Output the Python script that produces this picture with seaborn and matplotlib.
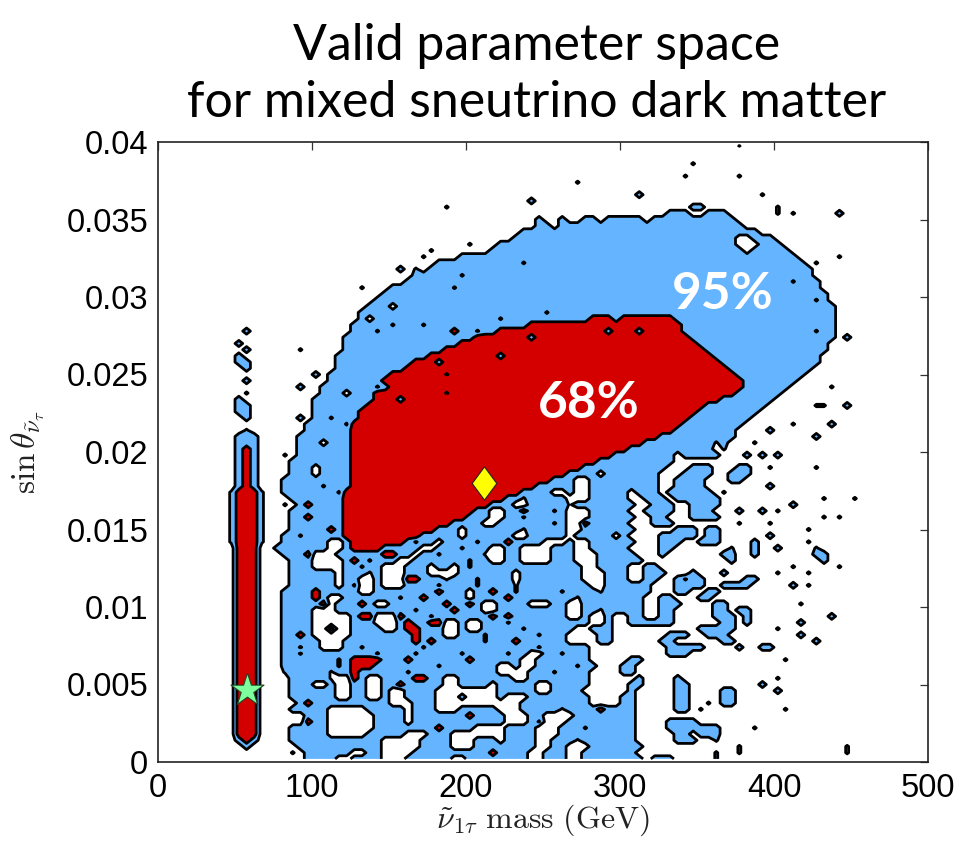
import numpy as np
import pandas as pd
import matplotlib
matplotlib.use("Agg")
import matplotlib.pyplot as plt
import seaborn as sns

# ---------------------------------------------------------------------------
# Binned posterior, 100 mass bins (5 GeV) x 100 sin(theta) bins (0.0004).
# Each row runs over the mass bins; rows go from the top (sin = 0.0398)
# down to the bottom (sin = 0.0002).  '|' separates blocks of ten bins,
# missing trailing blocks are empty.
#   .  outside the 95% region      d  just above the 95% level
#   h  just below the 95% level    b  inside the 95% region
#   q  just below the 68% level    m  just above the 68% level
#   r  inside the 68% region
# ---------------------------------------------------------------------------
level_code = {".": 0.0, "d": 0.62, "h": 0.4, "b": 1.0, "q": 1.4, "m": 1.6, "r": 2.0}

level_rows = [
    "..........|..........|..........|..........|..........|..........|..........|.....d....",
    "",
    "",
    "..........|..........|..........|..........|..........|..........|.........d",
    "",
    "..........|..........|..........|..........|..........|..........|........d.|.....d....",
    "..........|..........|..........|..........|..........|....d.....",
    "",
    "..........|..........|..........|..........|..........|..........|..b.......|........d.",
    "..........|..........|..........|..........|........b.",
    "..........|..........|..........|.......d..|..........|..........|.........b|b.........|d.........",
    "..........|..........|..........|..........|..........|..........|......bbb.|.bbb......|d.d.....b.",
    "..........|..........|..........|..........|.........b|..b..bb.bb|bbb.bbbbbb|bbbbb.....",
    "..........|..........|..........|..........|.........b|b.bbbbbbbb|bbbbbbbbbb|bbbbbb....",
    "..........|..........|..........|..........|.......bbb|bbbbbbbbbb|bbbbbbbbbb|bbbbbbbb..",
    "..........|..........|..........|..........|......bbbb|bbbbbbbbbb|bbbbbbbbbb|bbbbb..bbb",
    "..........|..........|..........|..........|d...bbbbbb|bbbbbbbbbb|bbbbbbbbbb|bbbbb...bb|b.........",
    "..........|..........|..........|.....d....|...bbbbbbb|bbbbbbbbbb|bbbbbbbbbb|bbbbbb.bbb|bb........",
    "..........|..........|..........|....d....b|bbbbbbbbbb|bbbbbbbbbb|bbbbbbbbbb|bbbbbbbbbb|bbb.....d.",
    "..........|..........|..........|......bbbb|bbbbbbbhbb|bbbbbbbbbb|bbbbbbbbbb|bbbbbbbbbb|bbbb.d....",
    "..........|..........|..........|.b.d.bbbbb|bbbbbbbbbb|bbbbbbbbbb|bbbbbbbbbb|bbbbbbbbbb|bbbbb.....",
    "..........|..........|..........|...bbbbbbh|bbbbbbbbbb|bbbbbbbbbb|bbbbbbbbbb|bbbbbbbbbb|bbbbb.....",
    "..........|..........|..........|..bbbbbbbb|bbbbbbbbbb|bbbbbbbbbb|bbbbbbbbbb|bbbbbbbbbb|bbhbbb....",
    "..........|..........|......d...|bbbbbbbbhb|bbbbbbbbbb|bbbbbbbbbb|bbbbbbbbbb|bbbbbbbbbb|bbbbbb....",
    "..........|..........|.........b|bbbbbbbbbb|bbbbbbbbbb|bbbbbbbbbb|bbbbbbbbbb|bbbbbbbbbb|bbbbbbb...",
    "..........|..........|........bb|bbbbbbbbbb|bbbbbbbbbb|bbbbbbbbbb|bbbbbbbbbb|bbbbbbbbbb|bbbbbhb...",
    "..........|..........|.......bbb|.bbbbbbbbb|bbbbbbbbbb|bbbbbbbbbb|bbbbbbbbbb|bbbbbbbbbb|bbbbbbbb..",
    "..........|..........|......bbbb|bbbbbbbbbb|bbbbbbbbbb|hbbbbbbbbb|bbbbbbbbbb|bbbbbbbbbb|bbbbbbbb..",
    "..........|..........|......b.bb|bbbbbbbbbb|bbbbhbbbbb|bbbbbbrrrb|rrrrrrrbbb|bbbbbbbbbb|bbbbbbbb..",
    "..........|..........|.....bbbbb|hbbbhbbbbb|bbbbbbbbrr|rrrrrrrrrr|rrrrrrrrbb|bbbbbbbbbb|bbbbbbbb..",
    "..........|.b........|.....bbbhb|bbbbbbbbrb|bhbbrrrrrr|rrrrrrrrbr|rrbrrrrrbb|bbbbbbbbbb|bbbbbhbb..",
    "..........|..........|....bbbbbb|bbbbbbbbbb|brrrrrrrbr|rrrrrrrrrr|rrrrrrrrrb|bbbbbbbbbb|bbbbbbbb.b",
    "..........|b.........|....bbbbbb|bbbbbbbbbr|rrrrrrrrrr|rrrrrrrrrr|rrrrrrrrrr|bbbbbbbbbb|bbbbbbb...",
    "..........|.b......d.|....bbbbbb|bbbbbbbrrr|rrrrrrrrrr|rrrrrrrrrr|rrrrrrrrrr|rbbbbbbbbb|bbbbbbb...",
    "..........|b.........|...bbbbbbb|bbbbbrrrrr|rrrrbrrrrr|rrrrrrrrrr|rrrrrrrrrr|rrbbbbbbbb|bbbbbb....",
    "..........|bb........|...bbbbbbb|bbbrrrbrrr|rrrrrrrrrr|rrrrrrrrrr|rrrrrrrrrr|rrrbbbbbbb|bbbbbb....",
    "..........|.b........|...bbbbbbb|bbrrrrrrrr|rrrrrrrrrr|rrrrrrrrrr|rrrrrrrrrr|rrrrbbbbbb|bbbbb.....",
    "..........|..........|b.bbbbbbbb|rrrrrrrqrr|rrrrrrrrrr|rrrrrrrrrr|rrrrrrrrrr|rrrrrbbbbb|bbbb......",
    "..........|.b........|..bbbbbbbr|rrrrrrrrrr|rrrrrrrrrr|rrrrrrrrrr|rrrrrrrrrr|rrrrrrbbbb|bbb.......",
    "..........|........b.|.bbbbbbbhb|rrrrrrrrrr|rrrrrrrrrr|rrrrrrrrrr|rrrrrrrrrr|rrrrrrbbbb|bb.....d..",
    "..........|.d........|.bbb.bbbrr|rrrrrrrqrr|rrrrrrrrrr|rrrrrrrrrr|rrrrrrrrrr|rrrrrbbbbb|b.........",
    "..........|b.........|bbbbbbbbrr|rbrrrrrrrr|rrrrrrrrrr|rrrrrrrrrr|rrrrrrrrrr|rrrbbbbbbb",
    "..........|bb........|bbbbbbbrrr|rrrrrrrrrr|rrrrrrrrrr|rrrrrrrrrr|rrrrrrrrrr|rbbbbbbbb.|.....dd..b",
    "..........|bb........|bbbbbbrrrr|rrrrrrrrrr|rrrrrrrrrr|rrrrrrrrrr|rrrrrrrrrr|bbbbbbbb..",
    "..........|.b......b.|bbhbbbrrrr|rrrrrrrrrr|rrrrrrrrrr|rrrrrrrrrr|rrrrrrrrrb|bbbbbbb...",
    "..........|.........b|bbbbhrrrrr|rrrrrrrrrr|rrrrrrrrrr|rrrrrrrrrr|rrrrrrrrbb|bbbbbb....|..d....b..",
    "..........|.d.......b|bbbbbrrrrr|rrrrrrrrrr|rrrrrrrrrr|rrrrrrrrrr|rrrrrrrbbb|bbbbb....b",
    "..........|bbb.....bb|bbbbbrrrrr|rrrrrrrrrr|rrrrrrrrrr|rrrrrrrrrr|rrrrrbbbbb|bbbbb.....|.....b....",
    "..........|bbb.....bb|b.bbbrrrrr|rrrrrrrrrr|rrrrrrrrrr|rrrrrrrrrr|rrrbbbbbbb|bbhb...d..",
    "..........|brb.....bb|bbbbbrrrrr|rrrrrrrrrr|rrrrrrrrrr|rrrrrrrrrr|rbbbbbbbbb|bb.d......",
    "..........|brb...d.bb|bbbbbrrrrr|rrrrrrrrrr|rrrrrrrrrr|rrrrrrrrrb|bbbbbbb.bb|bbb...b.b.|b.........",
    "..........|brb....bbb|bbbbbrrrrr|rrrrrrrrrr|rrrrrrrrrr|rrrrrrrbbb|bbbbbbb...",
    "..........|brb....bbb|.bbbbrrrrr|rrrrrrrrrr|rrrrrrrrrr|rrrrrbbbbb|bbbbbb...b|bb...bb..d|.....d....",
    "..........|brb....bbb|.bbbbrrrrr|rrrrrrrrrr|rrrrrrrrrr|rrrbbbb.bb|bbbbb...bb|bb..bbb...",
    "..........|brb...bbbb|bbbbbrrrrr|rrrrrrrrrr|rrrrrrrrrr|rbbb..bbbb|bbbbb..bbb|b...bb....",
    "..........|brb...bbbb|bhbbbrrrrr|rrrrrrrrrr|rrrrrrrrrb|bbbb..bbbb|bbbbb..bbb|b........b",
    ".........d|rrrd..bbbb|bbbhrrrrrr|rrrrrrrrrr|rrrrrrrbbb|b..b..bbbb|b.bbb.bbbb|bb.d......",
    ".........d|rrrd...bbb|bbbbrrrrrr|rrrrrrrrrr|rrrrrbbhbb|bbb...bbbb|b..bbb.bbb|bbb.......|......d...|d.........",
    ".........d|rrrd..d.br|bbbbrrrrrr|rrrrrrrrrr|rrrbbb..bb|bbbhbbbbbb|bb..bbb..b|bbb.......|..b.......",
    ".........d|rrrd...bbb|bbbbrrrrrr|rrrrrrrrrr|rbb..bbrbb|bmb...bbbb|b..bbbb..b|bb...b..b.|d.........",
    ".........d|rrrd...bbr|bbbbrrrrrr|rrrrrrrrrr|bbb..bbhbb|bbb...bbbb|bb..bb...b|bbb.......|......d.d.",
    ".........d|rrrd...bbb|bbbbrrrrrr|rrrrrrrrbb|bb..bbbbbb|bhb..rbbbb|b...bbb...|.....d...d",
    ".........d|rrrd...bbb|bbrbrrrrrr|rrrrrrbbb.|bbbbbbbhbb|bbb..bbbbb|bb.....bbb|.bb.......|....d.....",
    ".........d|rrrd..bbhb|bbbbrrrrrr|rrrrbbbbb.|bbbbbb..bb|bbb.bbbbb.|b....bbbbb|.bb......b",
    ".........d|rrrd..bbbb|bb..brrrrr|rrbhbb.bbb|bhbbbrbbbb|...b..bbbb|bb...bbb..|bbb....b..|....d.....",
    "..........|rrr..bbbbb|bb..brrrrb|bbbb..bbbh|bbb..bb...|.bbb..bbbb|b....bb...|....d..b..|b....d....",
    "..........|rrr...bbbr|...bbbbbbr|rbb.bbhbbb|bbh..bb...|.bbb...bbb|bb...b....|...bb..b..|.....bb...",
    "..........|rrr....bbb|....brbhbb|b..bbbbbbb|hbb..bb...|.bbb...bbb|bbb.......|....b.....|......b...",
    "..........|rrr....bbb|....bbhbb.|..bbb.bb.b|hbbbbbbbbb|bbbbb..bbb|b..bb.....|..........|..d.....d.",
    "..........|rrr....bbb|bbb.bbbhb.|..bbb....b|bbbbbb.bbb|bbbbb...bb|b..bbb...b|...b......|d...d.....",
    "..........|rrr....bbb|bbb.bb..b.|..rrbbbhbb|bhbbbb.bbb|bbbbb...bb|b..bb..bmb|b.....bb..",
    "..........|rrr....bbb|bbb.bm..b.|..bbbbhbbb|bhbbbbhbbb|bbbbbb..bb|bbbb...bbb|b..bbbb...|..b.d.....",
    "..........|rrr...bbbb|rbbbbb..bb|bbbbbbrbbb|.bbrbbhbbb|bbhbbbbhbb|bbbb...bb.|.bb.......",
    "..........|rrr...bbbb|rb..bbbbbb|bhbbrbbbbb|.bbbbrbbbb|bbbbhbbbbb|bbb..bb...|bb........",
    "..........|rrr...bbbb|br.bbbrb..|bbbbbbbrbb|rb..bbbb..|.bb..bbbbb|bbb..bbb..|..bb......|...d......",
    "..........|rrr...bbbb|...bbbbbbb|bbbhbbbbrb|bb..bbbbbb|bbb..bbhbb|bbb..bb...|..bb.bb...",
    "..........|rrr...bbbb|.....brr..|.rbbbhbbbb|bbbrbrbbbb|bbb..b..b.|.bb..bb...|..bbb.b...|.......b..",
    "..........|rrr...bbbb|.....bbb..|.brbbrr..b|..bbbhbbbb|bbbbbb..b.|.bbbbbb...|...bb.b...|...b......",
    "..........|rrr...bbbb|..r..bbbb.|.brrbbb..b|..bbbbbmbb|bbbb..bbb.|..........|bbbbb.....|d.........",
    "..........|rrr...bbrb|.....bbbbb|bbbrbbb..b|bbhbbbbbbm|bbb....bb.|......bbb.|.bbb......|...b......",
    "..........|rrr...bbbb|b...bbbbbb|bbbrbrbbbb|bbhbbbrbbb|bbb....bb.|.....bb...|...bb.....|.....b....",
    "..........|rrr...bbhb|b...bbhbbb|bbbbhbbbbb|bbbbbbbbbm|bbbbbb....|......bbbb|b....b..bb",
    "..........|rrr...bbmb|bbbbbbbbhb|bbbhbbbbbm|bbbbbmbb..|bbhbbb....|......bbb.",
    "..........|rrr...bbbb|bbbhbrrrrb|bbrbbbbbbb|rbbbbbb..b|bbbbbb....|.bb.......|..........|.d........",
    "..........|rrr...bbbb|bbbhbrrrbb|bbbbbbhbbb|bbbb..b..b|bbbbhbb...|bb........",
    "..........|rrr...dbbb|bbhbbrbbbb|bbhbbbbbbb|bbbb....bb|bhbbbb....|bb........",
    "..........|rrr....bbb|bbh..rb..b|bbbrrbb..b|bbbbbb..bb|bbbbbb....|..b....b..|..........|d.........",
    "..........|rrr....bbb|..b..bb..b|brbbbbb..b|bbb.bbbbb.|.bbbbb....|.bb....bb.|........b.",
    "..........|rrr....bbb|bbb..bb..b|..bbbb....|....bbbbb.|.bbbb.....|.b.....bb.|...bb.....|b.........",
    "..........|rrr....bbb|bbb..bb..b|..bbbb...b|....b...bb|bbbbbb....|bb.....bb.|...bb.....",
    "..........|rrr.....br|bbbbbbbbbb|...bbb....|.......bbb|bbbbbb....|bb.....bb.|.d.bb.....",
    "..........|rrr....bbb|bb.....bbb|bb.bbb...b|bbbb...bbb|bbhbbbbrbb|bb.....bb.|d.........|.d........",
    "..........|rrr......b|bb......bb|bb.bbbbbbb|rbbbb...bb|....bbbbbb|bb........",
    "..........|rrr......r|bb......bb|bb.bbbbbbb|bbbbb...bm|...bbbbbbb|bb....bbbb",
    "..........|rrr....bbb|bb......bb|bbbbbbrbbb|b....bbbb.|..bbbhbbbb|bb....bbbb|bbb....d..",
    "..........|rrr....bbb|bb.....bbb|bb...bbb..|.....bbbb.|..bbbbbbbb|bb.....bb.|bbb.......",
    "..........|brb....bbb|bbbbbbbbb.|....bbbb..|.bbb.bbbb.|.bbbhbbbbb|bb.....bbb|..d.......",
    "..........|.b......bb|bbbbbbbbb.|....bbbb..|.bbbbbbbb.|.bb...bbbb|bbb.......|.....d....|.........d",
    "..........|.......d.b|bbbbb..bb.|...bbbbbbb|bbbrbbbb..|bbb..bbbbb|bb........|..d..d....|.........d",
    "..........|.........b|bbb..bbbb.|..bbbbbb..|bbbbbbbb..|bbb..bbbbb|bbb.bbb...|..d.......",
]

# Axis ranges and binning
mass_limits = (0.0, 500.0)
sin_limits = (0.0, 0.04)
n_bins = 100

# Reference points
best_fit = pd.DataFrame({"mass": [212.0], "sin": [0.0180]})
light_point = pd.DataFrame({"mass": [58.0], "sin": [0.00465]})

# Credible-region labels
region_labels = ["68%", "95%"]
label_mass = [280.0, 367.0]
label_sin = [0.0222, 0.0292]

# Ticks
mass_ticks = [0, 100, 200, 300, 400, 500]
sin_ticks = [0.0, 0.005, 0.01, 0.015, 0.02, 0.025, 0.03, 0.035, 0.04]
sin_tick_labels = ["0", "0.005", "0.01", "0.015", "0.02", "0.025", "0.03", "0.035", "0.04"]

BLUE = "#64b4ff"
RED = "#d40000"
YELLOW = "#ffff00"
GREEN = "#7dff9e"


def decode_row(row):
    blocks = row.split("|")
    blocks = [b.ljust(10, ".")[:10] for b in blocks]
    blocks += ["." * 10] * (10 - len(blocks))
    return [level_code[c] for c in "".join(blocks[:10])]


levels = np.array([decode_row(r) for r in level_rows])[::-1]
mass_edges = np.linspace(*mass_limits, n_bins + 1)
sin_edges = np.linspace(*sin_limits, n_bins + 1)
mass_centers = 0.5 * (mass_edges[:-1] + mass_edges[1:])
sin_centers = 0.5 * (sin_edges[:-1] + sin_edges[1:])

sns.set_theme(style="white")
plt.rcParams["font.family"] = ["Liberation Sans", "DejaVu Sans"]
plt.rcParams["mathtext.fontset"] = "cm"

W, H = 977, 842
fig = plt.figure(figsize=(W / 100, H / 100), dpi=100)
ax = fig.add_axes([158 / W, 1 - 762 / H, 770 / W, 620 / H])

ax.contourf(mass_centers, sin_centers, levels, levels=[0.5, 1.5, 10],
            colors=[BLUE, RED], antialiased=True)
ax.contour(mass_centers, sin_centers, levels, levels=[0.5, 1.5],
           colors="black", linewidths=2.0)

diamond = np.array([[0, 1], [0.74, 0], [0, -1], [-0.74, 0], [0, 1]])
sns.scatterplot(data=best_fit, x="mass", y="sin", marker=diamond, s=24 ** 2,
                color=YELLOW, edgecolor="#222222", linewidth=0.8, ax=ax,
                zorder=5, legend=False)
sns.scatterplot(data=light_point, x="mass", y="sin", marker="*", s=25 ** 2,
                color=GREEN, edgecolor="#224422", linewidth=0.8, ax=ax,
                zorder=5, legend=False)

for txt, xm, ys in zip(region_labels, label_mass, label_sin):
    ax.text(xm, ys, txt, color="white", fontsize=37, fontweight="bold",
            family=["Lato", "DejaVu Sans"], ha="center", va="baseline", zorder=6)

ax.set_xlim(*mass_limits)
ax.set_ylim(*sin_limits)
ax.set_xticks(mass_ticks)
ax.set_xticklabels([str(t) for t in mass_ticks])
ax.set_yticks(sin_ticks)
ax.set_yticklabels(sin_tick_labels)
ax.tick_params(axis="both", direction="in", top=True, right=True, length=6,
               width=0.9, color="#333333", labelsize=23.5, labelcolor="black")
ax.tick_params(axis="x", pad=8)
ax.tick_params(axis="y", pad=7)
for sp in ax.spines.values():
    sp.set_color("#222222")
    sp.set_linewidth(1.2)

ax.set_xlabel(r"$\tilde{\nu}_{1\tau}\ \mathrm{mass\ (GeV)}$", fontsize=23,
              color="#222222", labelpad=-1)
ax.set_ylabel(r"$\sin\theta_{\tilde{\nu}_{\tau}}$", fontsize=24,
              color="#222222", labelpad=14)

title_font = ["Lato", "DejaVu Sans"]
fig.text(537 / W, 1 - 60 / H, "Valid parameter space", ha="center",
         va="baseline", fontsize=36, family=title_font, color="black")
fig.text(537 / W, 1 - 117 / H, "for mixed sneutrino dark matter", ha="center",
         va="baseline", fontsize=36, family=title_font, color="black")

fig.savefig("out.png", dpi=100, facecolor="white")
